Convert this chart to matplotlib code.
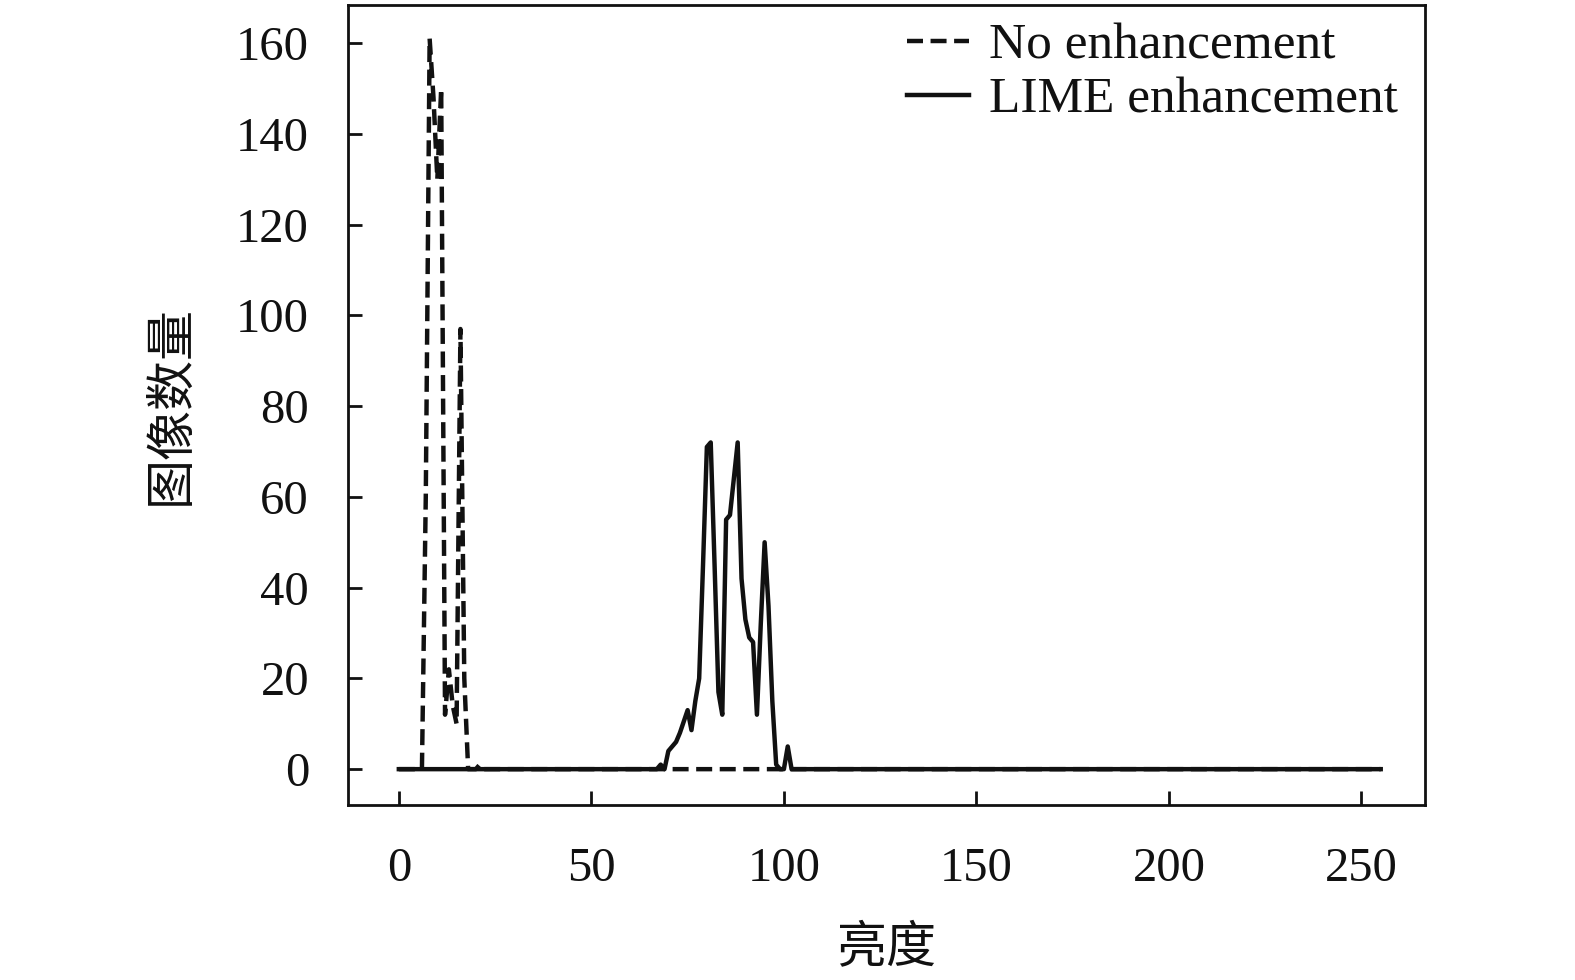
import numpy as np
import matplotlib
matplotlib.use("Agg")
import matplotlib.pyplot as plt

# ---- data ----
brightness = np.arange(256)

# No enhancement (dashed): non-zero part of the histogram
no_enh_x = [6, 7, 8, 9, 10, 11, 12, 13, 14, 15, 16, 17, 18, 19, 20, 21, 22]
no_enh_y = [0, 60, 161, 148, 130, 150, 12, 22, 14, 10, 97, 20, 0, 0, 0, 1, 0]

# LIME enhancement (solid): non-zero part of the histogram
lime_x = [67, 68, 69, 70, 71, 72, 73, 74, 75, 76, 77, 78, 79, 80, 81, 82, 83, 84,
          85, 86, 87, 88, 89, 90, 91, 92, 93, 94, 95, 96, 97, 98, 99, 100, 101, 102]
lime_y = [0, 1, 0, 4, 5, 6, 8, 10.5, 13, 8.6, 15, 20, 45, 71, 72, 45, 17, 12,
          55, 56, 64, 72, 42, 33, 29, 28, 12, 32, 50, 36, 15, 1, 0, 0, 5, 0]

x_ticks = [0, 50, 100, 150, 200, 250]
y_ticks = [0, 20, 40, 60, 80, 100, 120, 140, 160]
series_labels = ["No enhancement", "LIME enhancement"]
x_label = "亮度"
y_label = "图像数量"

no_enh = np.zeros(256)
no_enh[no_enh_x] = no_enh_y
lime = np.zeros(256)
lime[lime_x] = lime_y

# ---- plot ----
serif = ["Liberation Serif", "DejaVu Serif"]
cjk = ["Noto Sans CJK SC", "DejaVu Sans"]

fig = plt.figure(figsize=(15.75, 9.8), dpi=100)
ax = fig.add_axes([348 / 1575, 1 - 805 / 980, (1425 - 348) / 1575, 800 / 980])

ax.plot(brightness, no_enh, color="#111111", lw=3.2, linestyle=(0, (3.6, 1.7)),
        label=series_labels[0], zorder=2)
ax.plot(brightness, lime, color="#111111", lw=3.2, linestyle="-",
        label=series_labels[1], zorder=3)

ax.set_xlim(-13.2, 266.5)
ax.set_ylim(-7.9, 168.4)
ax.set_xticks(x_ticks)
ax.set_yticks(y_ticks)
ax.set_xticklabels([str(v) for v in x_ticks], fontfamily=serif, fontsize=35)
ax.set_yticklabels([str(v) for v in y_ticks], fontfamily=serif, fontsize=35)
ax.tick_params(axis="both", direction="in", length=10, width=2, color="#111111",
               labelcolor="#111111")
ax.tick_params(axis="x", pad=30)
ax.tick_params(axis="y", pad=28)
for s in ax.spines.values():
    s.set_linewidth(2)
    s.set_color("#111111")

ax.set_xlabel(x_label, fontfamily=cjk, fontsize=36, color="#111111")
ax.set_ylabel(y_label, fontfamily=cjk, fontsize=36, color="#111111")
ax.xaxis.set_label_coords(0.5, (805 - 922) / 800)
ax.yaxis.set_label_coords((197 - 348) / 1077, 0.5)

leg = ax.legend(loc="upper right", bbox_to_anchor=(0.975, 0.978), frameon=False,
                borderaxespad=0, borderpad=0, handlelength=1.2, handletextpad=0.4,
                labelspacing=0.14, prop={"family": serif, "size": 37})
for t in leg.get_texts():
    t.set_color("#111111")

fig.savefig("out.png", dpi=100, facecolor="white")
